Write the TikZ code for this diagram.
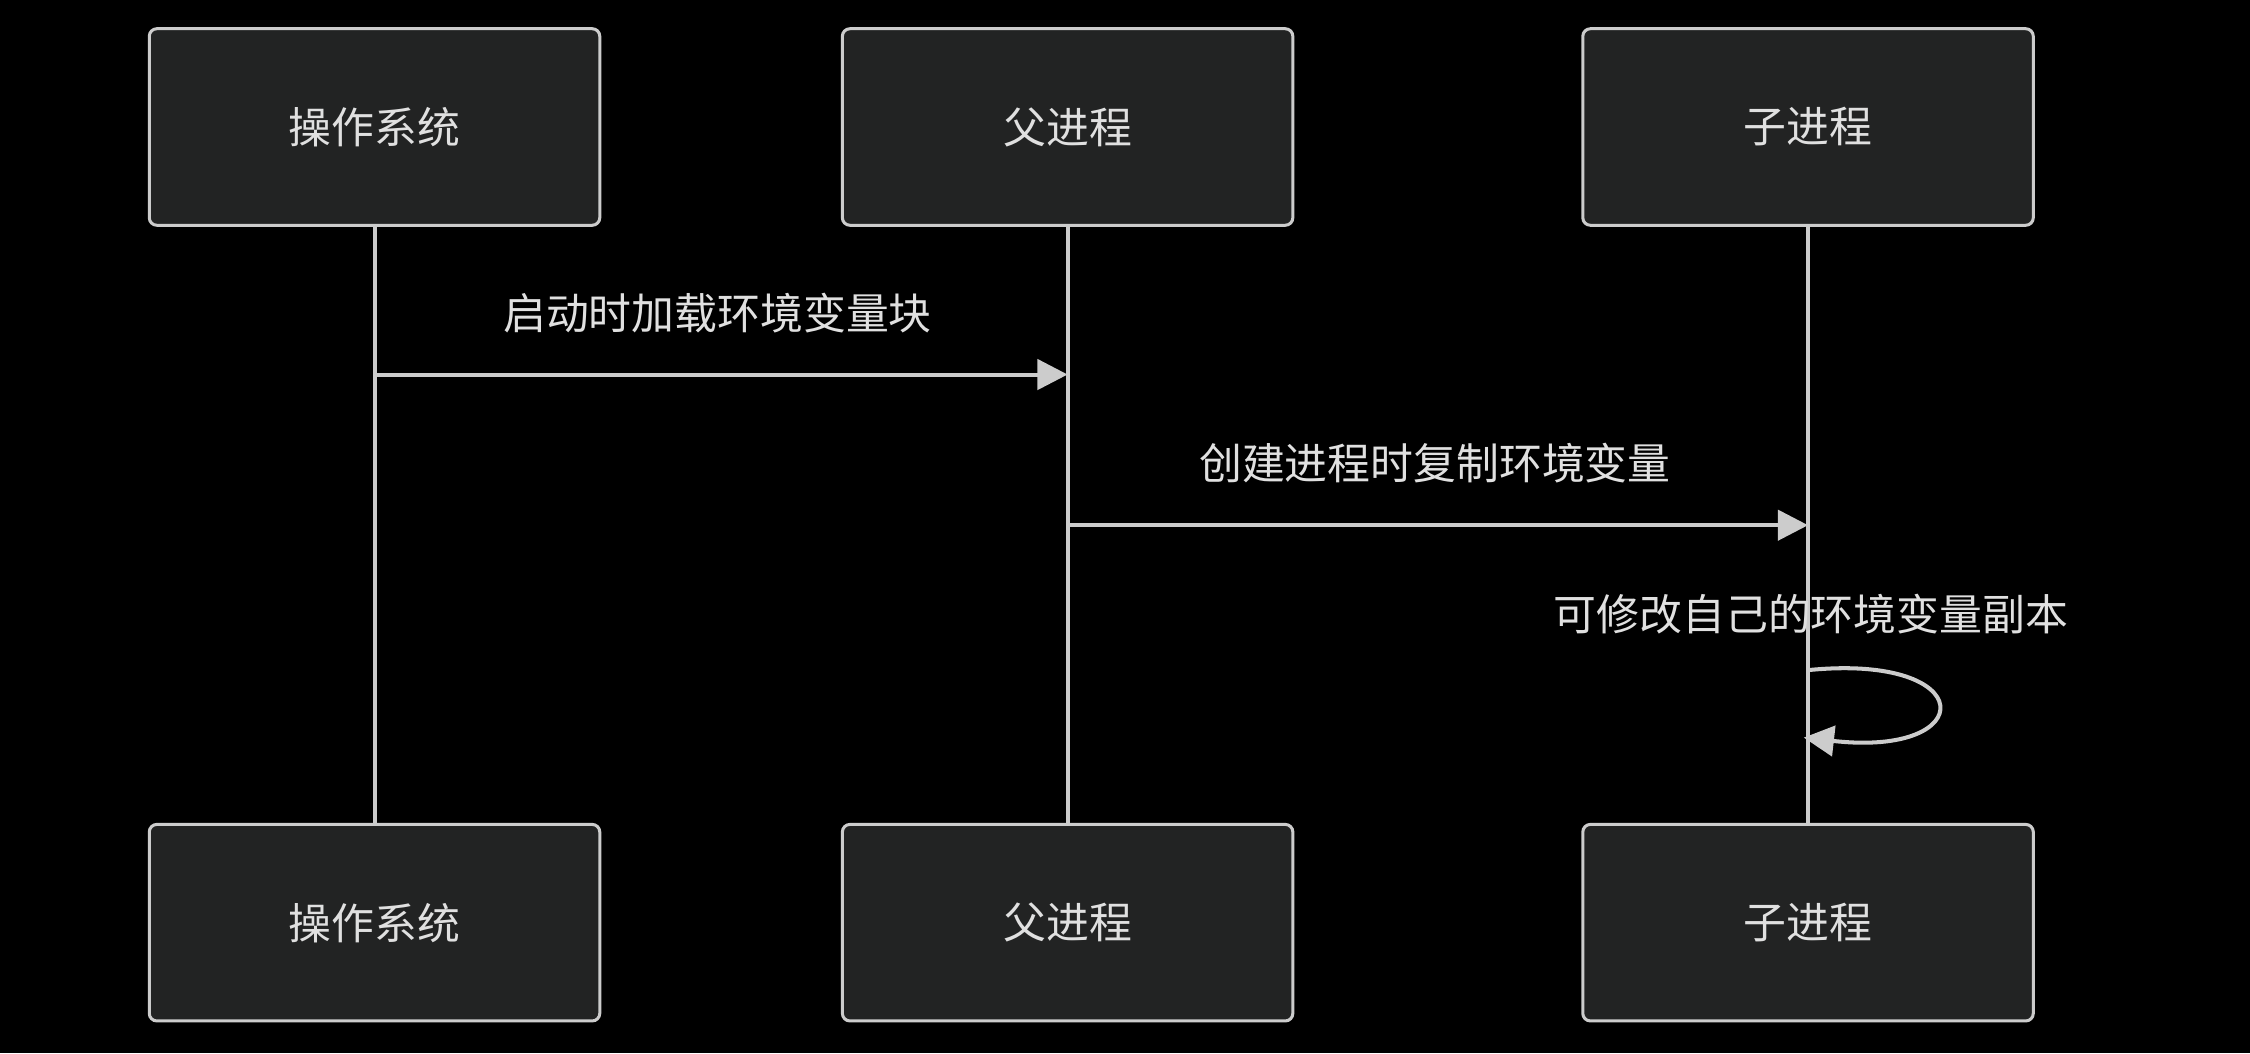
\documentclass[tikz,border=0pt]{standalone}
\usepackage{fontspec}
\setmainfont{Noto Sans CJK SC}
\usetikzlibrary{arrows.meta}
\definecolor{boxfill}{HTML}{222323}
\definecolor{linegray}{HTML}{CCCCCC}
\definecolor{txtgray}{HTML}{E0E0E0}
\tikzset{
  actor/.style={draw=linegray, fill=boxfill, rounded corners=3pt, line width=1.2pt,
    minimum width=6.28cm, minimum height=2.74cm, text=txtgray, font=\fontsize{17}{20}\selectfont},
  life/.style={draw=linegray, line width=1.6pt},
  msg/.style={draw=linegray, line width=1.6pt, -{Triangle[length=12pt,width=12pt]}},
  lbl/.style={text=txtgray, font=\fontsize{17}{20}\selectfont}
}
\begin{document}
\begin{tikzpicture}[x=0.02cm,y=-0.02cm]
  \fill[black] (0,0) rectangle (1568,734);
  \useasboundingbox (0,0) rectangle (1568,734);
  % lifelines first
  \coordinate (osT) at (261,157);   \coordinate (osB) at (261,575);
  \coordinate (parT) at (744,157);  \coordinate (parB) at (744,575);
  \coordinate (chT) at (1260,157);  \coordinate (chB) at (1260,575);
  \draw[life] (osT)--(osB);
  \draw[life] (parT)--(parB);
  \draw[life] (chT)--(chB);
  % actors
  \node[actor] (os) at (261,88.5) {操作系统};
  \node[actor] (par) at (744,88.5) {父进程};
  \node[actor] (ch) at (1260,88.5) {子进程};
  \node[actor] (os2) at (261,643) {操作系统};
  \node[actor] (par2) at (744,643) {父进程};
  \node[actor] (ch2) at (1260,643) {子进程};
  % messages
  \coordinate (m1s) at (261,261); \coordinate (m1e) at (744,261);
  \draw[msg] (m1s)--(m1e);
  \node[lbl] (t1) at (500,218) {启动时加载环境变量块};
  \coordinate (m2s) at (744,366); \coordinate (m2e) at (1260,366);
  \draw[msg] (m2s)--(m2e);
  \node[lbl] (t2) at (1000,323) {创建进程时复制环境变量};
  \coordinate (l1) at (1260,467); \coordinate (l2) at (1257,514);
  \draw[msg] (l1) .. controls (1380,455) and (1380,528) .. (l2);
  \node[lbl] (t3) at (1262,428) {可修改自己的环境变量副本};
\end{tikzpicture}
\end{document}
